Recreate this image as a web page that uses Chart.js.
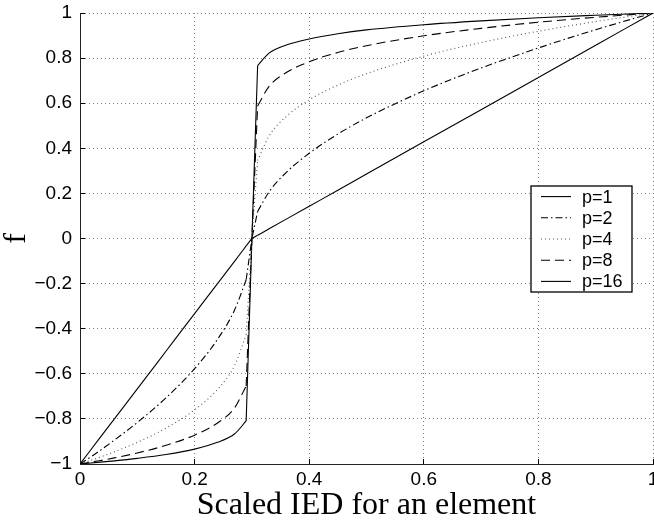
<!DOCTYPE html>
<html>
<head>
<meta charset="utf-8">
<script src="https://cdn.jsdelivr.net/npm/chart.js@4/dist/chart.umd.min.js"></script>
<style>
  body { margin: 0; background: #fff; }
  #wrap { width: 654px; height: 526px; position: relative; }
</style>
</head>
<body>
<div id="wrap"><canvas id="chart"></canvas></div>
<script>
// values
const xValues = [0, 0.03, 0.06, 0.1, 0.15, 0.2, 0.24, 0.27, 0.29, 0.3, 0.31, 0.33, 0.36, 0.4, 0.45, 0.5, 0.6, 0.7, 0.8, 0.9, 1];
const fP1  = [-1, -0.9, -0.8, -0.667, -0.5, -0.333, -0.2, -0.1, -0.033, 0, 0.014, 0.043, 0.086, 0.143, 0.214, 0.286, 0.429, 0.571, 0.714, 0.857, 1];
const fP2  = [-1, -0.949, -0.894, -0.816, -0.707, -0.577, -0.447, -0.316, -0.183, 0, 0.12, 0.207, 0.293, 0.378, 0.463, 0.535, 0.655, 0.756, 0.845, 0.926, 1];
const fP4  = [-1, -0.974, -0.946, -0.904, -0.841, -0.76, -0.669, -0.562, -0.427, 0, 0.346, 0.455, 0.541, 0.615, 0.68, 0.731, 0.809, 0.869, 0.919, 0.962, 1];
const fP8  = [-1, -0.987, -0.973, -0.951, -0.917, -0.872, -0.818, -0.75, -0.654, 0, 0.588, 0.675, 0.736, 0.784, 0.825, 0.855, 0.899, 0.932, 0.959, 0.981, 1];
const fP16 = [-1, -0.993, -0.986, -0.975, -0.958, -0.934, -0.904, -0.866, -0.809, 0, 0.767, 0.822, 0.858, 0.885, 0.908, 0.925, 0.948, 0.965, 0.979, 0.99, 1];
const seriesLabels = ["p=1", "p=2", "p=4", "p=8", "p=16"];
const xTitle = "Scaled IED for an element";
const yTitle = "f";

const seriesValues = [fP1, fP2, fP4, fP8, fP16];
const seriesDash = [[], [7, 3, 1.5, 3], [1, 3], [9, 5], []];
const seriesColor = ["#000", "#000", "#555", "#000", "#000"];

// the jump around x = 0.3 is a straight piece, both branches are smooth
const jumpFrom = xValues.indexOf(0.29);
const jumpTo = xValues.indexOf(0.31);

function piece(ys, from, to, s, smooth) {
  const pts = [];
  for (let i = from; i <= to; i++) pts.push({ x: xValues[i], y: ys[i] });
  return {
    label: seriesLabels[s],
    data: pts,
    showLine: true,
    borderColor: seriesColor[s],
    borderWidth: 1.1,
    borderDash: seriesDash[s],
    pointRadius: 0,
    cubicInterpolationMode: smooth ? "monotone" : "default",
    tension: 0,
    fill: false
  };
}

const datasets = [];
seriesValues.forEach((ys, s) => {
  datasets.push(piece(ys, 0, jumpFrom, s, true));
  datasets.push(piece(ys, jumpFrom, jumpTo, s, false));
  datasets.push(piece(ys, jumpTo, xValues.length - 1, s, true));
});

function fmt(v) {
  let r = Math.round(v * 10) / 10;
  if (r === 0) return "0";
  return String(r).replace("-", "\u2212");
}

// legend drawn inside the plot, like the original
const boxLegend = {
  id: "boxLegend",
  afterDraw(chart) {
    const ctx = chart.ctx;
    const x0 = 531, y0 = 186, w = 101, h = 106;
    ctx.save();
    ctx.fillStyle = "#fff";
    ctx.fillRect(x0, y0, w, h);
    ctx.strokeStyle = "#000";
    ctx.lineWidth = 1.3;
    ctx.strokeRect(x0, y0, w, h);
    ctx.font = "18px 'Liberation Sans', Arial, sans-serif";
    ctx.textBaseline = "middle";
    ctx.fillStyle = "#000";
    seriesLabels.forEach((label, i) => {
      const y = y0 + 10.6 + i * 21.2;
      ctx.beginPath();
      ctx.setLineDash(seriesDash[i]);
      ctx.strokeStyle = seriesColor[i];
      ctx.lineWidth = 1.1;
      ctx.moveTo(541, y);
      ctx.lineTo(571, y);
      ctx.stroke();
      ctx.setLineDash([]);
      ctx.fillText(label, 582, y + 1);
    });
    ctx.restore();
  }
};

const tickFont = { family: "'Liberation Sans', Arial, sans-serif", size: 19 };
const titleFont = { family: "'Liberation Serif', 'Times New Roman', serif", size: 32, lineHeight: 1 };

new Chart(document.getElementById("chart"), {
  type: "scatter",
  data: { datasets: datasets },
  options: {
    responsive: true,
    maintainAspectRatio: false,
    animation: false,
    layout: { padding: { top: 13, right: 1, left: 0, bottom: 0 } },
    plugins: { legend: { display: false }, tooltip: { enabled: false } },
    scales: {
      x: {
        type: "linear",
        min: 0, max: 1,
        afterFit: s => { s.height = 62; s.paddingLeft = 0; s.paddingRight = 0; },
        ticks: {
          stepSize: 0.2, padding: 9, color: "#000", font: tickFont,
          callback: v => fmt(v), maxRotation: 0
        },
        grid: { color: "rgba(0,0,0,0.5)", lineWidth: 1, tickLength: -5, tickColor: "#000", tickBorderDash: [] },
        border: { display: true, color: "#222", width: 1, dash: [1, 3] },
        title: { display: true, text: xTitle, color: "#000", font: titleFont, padding: { top: 0, bottom: 4 } }
      },
      y: {
        type: "linear",
        min: -1, max: 1,
        afterFit: s => { s.width = 80; s.paddingTop = 0; s.paddingBottom = 0; },
        ticks: {
          stepSize: 0.2, padding: 13, color: "#000", font: tickFont,
          callback: v => fmt(v)
        },
        grid: { color: "rgba(0,0,0,0.5)", lineWidth: 1, tickLength: -5, tickColor: "#000", tickBorderDash: [] },
        border: { display: true, color: "#222", width: 1, dash: [1, 3] },
        title: { display: true, text: yTitle, color: "#000", font: titleFont, padding: { top: 1, bottom: 0 } }
      }
    }
  },
  plugins: [boxLegend]
});
</script>
</body>
</html>
